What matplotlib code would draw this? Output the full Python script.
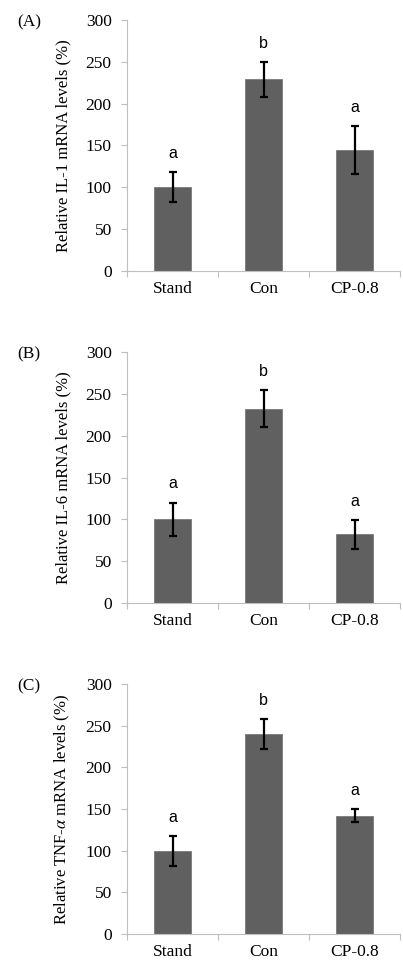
import matplotlib
matplotlib.use("Agg")
import matplotlib.pyplot as plt
import numpy as np

categories = ["Stand", "Con", "CP-0.8"]
panel_labels = ["(A)", "(B)", "(C)"]
ylabels = ["Relative IL-1 mRNA levels (%)",
           "Relative IL-6 mRNA levels (%)",
           "Relative TNF-$\\alpha$ mRNA levels (%)"]
il1_vals = [100, 229, 145]
il1_err = [18, 20.5, 28.5]
il6_vals = [100, 232, 82]
il6_err = [20, 22, 17]
tnf_vals = [100, 240, 142]
tnf_err = [18, 18, 8]
letters_il1 = ["a", "b", "a"]
letters_il6 = ["a", "b", "a"]
letters_tnf = ["a", "b", "a"]

plt.rcParams['font.family'] = ['Liberation Serif', 'DejaVu Serif']
plt.rcParams['mathtext.fontset'] = 'stix'

W, H = 403, 960
fig = plt.figure(figsize=(W/100, H/100), dpi=100)

axes_px = [(20, 271), (352, 603), (684, 934)]
left_px, right_px = 127, 400

data = [(il1_vals, il1_err, letters_il1),
        (il6_vals, il6_err, letters_il6),
        (tnf_vals, tnf_err, letters_tnf)]

gray = "#bfbfbf"
fs = 12.5
for i, ((top, bot), (vals, errs, lets)) in enumerate(zip(axes_px, data)):
    ax = fig.add_axes([left_px/W, 1 - bot/H, (right_px-left_px)/W, (bot-top)/H])
    x = np.arange(len(categories))
    ax.bar(x, vals, width=0.4, color="#606060", edgecolor="#7a7a7a", linewidth=0.6, zorder=2)
    ax.errorbar(x, vals, yerr=errs, fmt='none', ecolor='black', elinewidth=1.6,
                capsize=3, capthick=1.6, zorder=3)
    for xi, v, e, l in zip(x, vals, errs, lets):
        ax.text(xi, v + e + 17, l, ha='center', va='baseline', fontsize=11.5,
                family=['Liberation Sans', 'DejaVu Sans'])
    ax.set_xlim(-0.5, 2.5)
    ax.set_ylim(0, 300)
    ax.set_yticks(range(0, 301, 50))
    ax.set_xticks(x)
    ax.set_xticklabels(categories, fontsize=fs)
    ax.set_xticks([-0.5, 0.5, 1.5, 2.5], minor=True)
    ax.tick_params(axis='x', which='major', length=0, pad=7.5)
    ax.tick_params(axis='x', which='minor', length=4, color=gray, width=0.8)
    ax.tick_params(axis='y', length=4, color=gray, width=0.8, labelsize=fs, pad=7)
    for s in ['top', 'right']:
        ax.spines[s].set_visible(False)
    for s in ['left', 'bottom']:
        ax.spines[s].set_color(gray)
        ax.spines[s].set_linewidth(0.8)
    ax.set_ylabel(ylabels[i], fontsize=12, labelpad=10)
    fig.text(17/W, 1 - (top + 2)/H, panel_labels[i], fontsize=fs, ha='left', va='center')

fig.savefig("out.png", dpi=100)
